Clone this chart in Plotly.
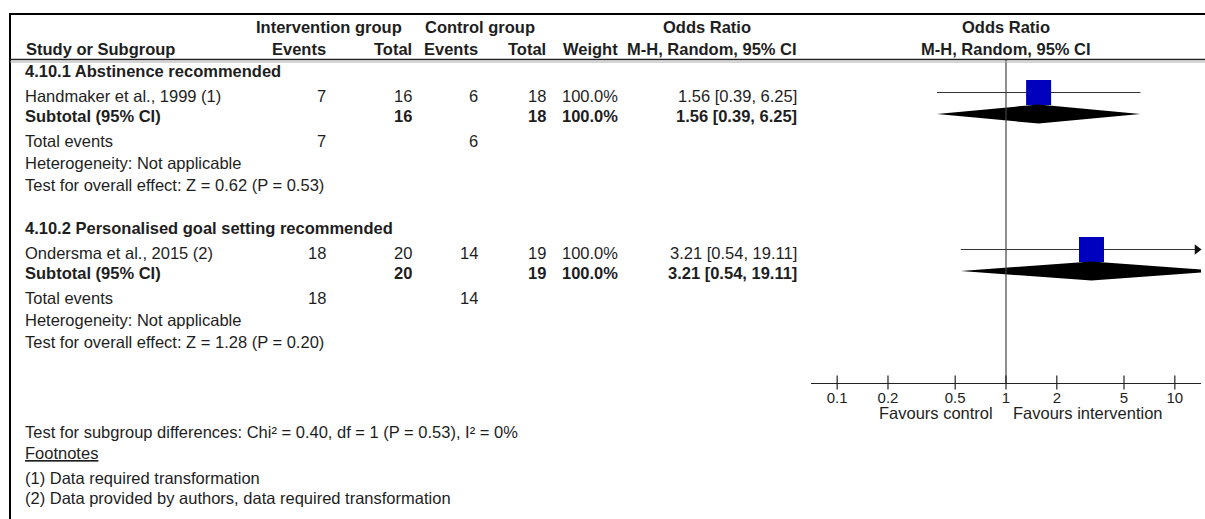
import math
import plotly.graph_objects as go

W, H = 1205, 519

# ---- data -------------------------------------------------------------
subgroups = ["4.10.1 Abstinence recommended",
             "4.10.2 Personalised goal setting recommended"]
studies = ["Handmaker et al., 1999 (1)", "Ondersma et al., 2015 (2)"]
int_events = [7, 18]
int_total = [16, 20]
ctl_events = [6, 14]
ctl_total = [18, 19]
weights = [100.0, 100.0]
odds_ratio = [1.56, 3.21]
ci_low = [0.39, 0.54]
ci_high = [6.25, 19.11]
sub_weight = [100.0, 100.0]
sub_or = [1.56, 3.21]
sub_low = [0.39, 0.54]
sub_high = [6.25, 19.11]
heterogeneity = ["Not applicable", "Not applicable"]
overall_z = [0.62, 1.28]
overall_p = [0.53, 0.20]

tick_vals = [0.1, 0.2, 0.5, 1, 2, 5, 10]
tick_text = ["0.1", "0.2", "0.5", "1", "2", "5", "10"]
x_log_range = [-1.155, 1.155]

subgroup_test = "Test for subgroup differences: Chi² = 0.40, df = 1 (P = 0.53), I² = 0%"
footnote_title = "Footnotes"
footnotes = ["(1) Data required transformation",
             "(2) Data provided by authors, data required transformation"]

# ---- layout constants ----------------------------------------------------
FONT = "Liberation Sans, Arial, sans-serif"
TXT = "#1e1e1e"
FS = 16.5
BLUE = "#0000bf"

plot_x0, plot_x1 = 811, 1201          # forest panel, pixels
axis_y = 383                          # x axis line
block_top = [71, 228]
row_off = {"study": 25, "sub": 44.5, "tot": 69.5, "het": 91.5, "test": 113.5}

col_right = {"ie": 326, "it": 412, "ce": 478, "ct": 546, "w": 618, "or": 797}
LEFT = 25
PAD = 2   # annotation box padding

fig = go.Figure()
ann = []


def px(x):
    return x / W


def text(x, y, s, anchor="left", bold=False, size=FS, color=TXT):
    if anchor == "left":
        x -= PAD
    elif anchor == "right":
        x += PAD
    ann.append(dict(x=px(x), y=y, xref="paper", yref="y", text=f"<b>{s}</b>" if bold else s,
                    showarrow=False, xanchor=anchor, yanchor="middle",
                    font=dict(family=FONT, size=size, color=color)))


# header
text(329, 27, "Intervention group", "center", True)
text(480, 27, "Control group", "center", True)
text(707, 27, "Odds Ratio", "center", True)
text(1006, 27, "Odds Ratio", "center", True)
text(LEFT + 1, 49, "Study or Subgroup", "left", True)
text(col_right["ie"], 49, "Events", "right", True)
text(col_right["it"], 49, "Total", "right", True)
text(col_right["ce"], 49, "Events", "right", True)
text(col_right["ct"], 49, "Total", "right", True)
text(col_right["w"], 49, "Weight", "right", True)
text(col_right["or"], 49, "M-H, Random, 95% CI", "right", True)
text(1006, 49, "M-H, Random, 95% CI", "center", True)

xmax = 10 ** x_log_range[1]

for i in range(len(studies)):
    top = block_top[i]
    ys = top + row_off["study"]
    yb = top + row_off["sub"]
    text(LEFT, top, subgroups[i], bold=True)

    # study row
    text(LEFT, ys, studies[i])
    text(col_right["ie"], ys, str(int_events[i]), "right")
    text(col_right["it"], ys, str(int_total[i]), "right")
    text(col_right["ce"], ys, str(ctl_events[i]), "right")
    text(col_right["ct"], ys, str(ctl_total[i]), "right")
    text(col_right["w"], ys, f"{weights[i]:.1f}%", "right")
    text(col_right["or"], ys, f"{odds_ratio[i]:.2f} [{ci_low[i]:.2f}, {ci_high[i]:.2f}]", "right")

    # subtotal row
    text(LEFT, yb, "Subtotal (95% CI)", bold=True)
    text(col_right["it"], yb, str(int_total[i]), "right", True)
    text(col_right["ct"], yb, str(ctl_total[i]), "right", True)
    text(col_right["w"], yb, f"{sub_weight[i]:.1f}%", "right", True)
    text(col_right["or"], yb, f"{sub_or[i]:.2f} [{sub_low[i]:.2f}, {sub_high[i]:.2f}]", "right", True)

    text(LEFT, top + row_off["tot"], "Total events")
    text(col_right["ie"], top + row_off["tot"], str(int_events[i]), "right")
    text(col_right["ce"], top + row_off["tot"], str(ctl_events[i]), "right")
    text(LEFT, top + row_off["het"], f"Heterogeneity: {heterogeneity[i]}")
    text(LEFT, top + row_off["test"],
         f"Test for overall effect: Z = {overall_z[i]:.2f} (P = {overall_p[i]:.2f})")

    # confidence interval line
    ym = ys - 3.5
    fig.add_trace(go.Scatter(x=[ci_low[i], min(ci_high[i], xmax)], y=[ym, ym], mode="lines",
                             line=dict(color="#333333", width=1.2), hoverinfo="skip"))
    if ci_high[i] > xmax:
        fig.add_trace(go.Scatter(x=[10 ** (x_log_range[1] - 4 / 169)], y=[ym], mode="markers",
                                 marker=dict(symbol="triangle-right", size=9, color="#111111"),
                                 cliponaxis=False, hoverinfo="skip"))
    # study square, side scaled by weight
    fig.add_trace(go.Scatter(x=[odds_ratio[i]], y=[ym], mode="markers",
                             marker=dict(symbol="square", size=25 * math.sqrt(weights[i] / 100),
                                         color=BLUE, line=dict(width=0)),
                             hoverinfo="skip"))
    # subtotal diamond
    yd = yb - 1.5
    h = 9.5
    fig.add_trace(go.Scatter(x=[sub_low[i], sub_or[i], sub_high[i], sub_or[i], sub_low[i]],
                             y=[yd, yd - h, yd, yd + h, yd], mode="lines", fill="toself",
                             fillcolor="#000000", line=dict(width=0, color="#000000"),
                             hoverinfo="skip"))

# line of no effect
fig.add_trace(go.Scatter(x=[1, 1], y=[59, axis_y], mode="lines",
                         line=dict(color="#444444", width=1.2), hoverinfo="skip"))
# crossing tick marks
fig.add_trace(go.Scatter(x=tick_vals, y=[axis_y - 0.5] * len(tick_vals), mode="markers",
                         marker=dict(symbol="line-ns-open", size=10, color="#222222",
                                     line=dict(color="#222222", width=1.2)),
                         cliponaxis=False, hoverinfo="skip"))

text(993, 413, "Favours control", "right")
text(1013, 413, "Favours intervention", "left")

text(LEFT, 432, subgroup_test)
text(LEFT, 453, f"<u>{footnote_title}</u>")
text(LEFT, 478, footnotes[0])
text(LEFT, 498, footnotes[1])

shapes = [
    dict(type="line", xref="paper", yref="y", x0=px(10), x1=1, y0=14, y1=14,
         line=dict(color="#000000", width=2)),
    dict(type="line", xref="paper", yref="y", x0=px(10), x1=px(10), y0=13, y1=H,
         line=dict(color="#000000", width=2)),
    dict(type="line", xref="paper", yref="y", x0=px(10), x1=1, y0=59.5, y1=59.5,
         line=dict(color="#222222", width=1.3)),
    dict(type="line", xref="paper", yref="y", x0=px(10), x1=1, y0=62, y1=62,
         line=dict(color="#aaaaaa", width=1)),
]

fig.update_layout(
    width=W, height=H, margin=dict(l=0, r=0, t=0, b=0),
    paper_bgcolor="white", plot_bgcolor="rgba(0,0,0,0)",
    showlegend=False, annotations=ann, shapes=shapes,
    xaxis=dict(type="log", range=x_log_range, domain=[plot_x0 / W, plot_x1 / W],
               anchor="free", position=1 - axis_y / H,
               showline=True, linecolor="#222222", linewidth=1.2,
               tickvals=tick_vals, ticktext=tick_text, ticks="",
               ticklabelstandoff=1,
               tickfont=dict(family=FONT, size=15, color=TXT),
               showgrid=False, zeroline=False, fixedrange=True),
    yaxis=dict(range=[H, 0], domain=[0, 1], visible=False, fixedrange=True),
)

fig.write_html("out.html")
